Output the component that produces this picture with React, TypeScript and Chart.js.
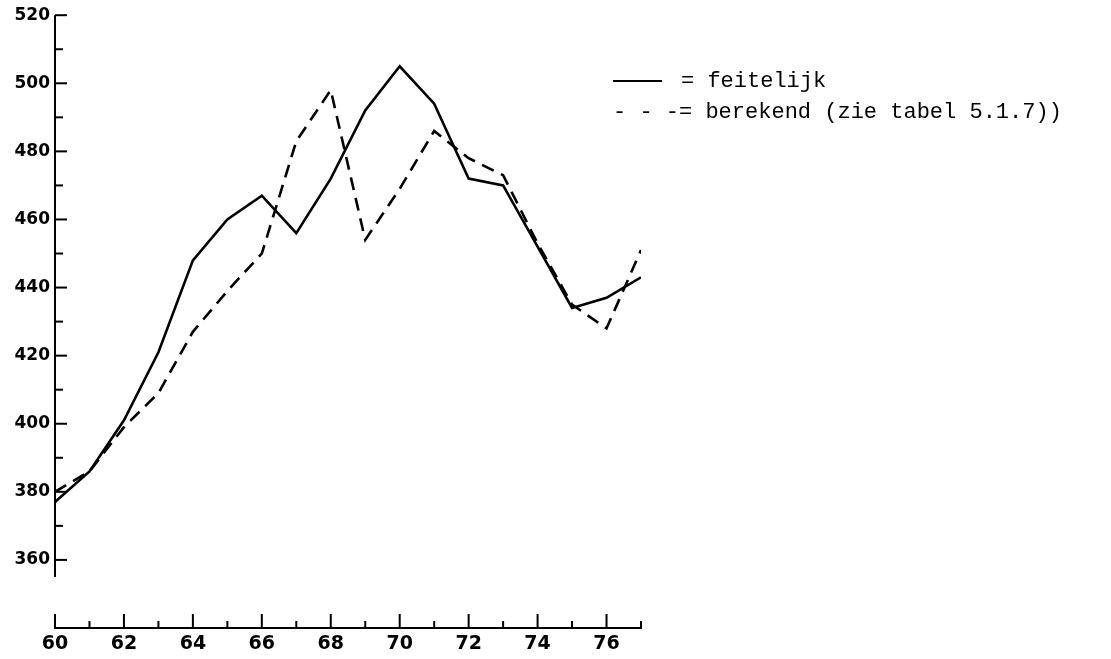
import React, { useEffect, useRef } from "react";
import { Chart, registerables } from "chart.js";

Chart.register(...registerables);

// ---- data ----
const years: number[] = [60, 61, 62, 63, 64, 65, 66, 67, 68, 69, 70, 71, 72, 73, 74, 75, 76, 77];
const feitelijk: number[] = [377, 386, 401, 421, 448, 460, 467, 456, 472, 492, 505, 494, 472, 470, 452, 434, 437, 443];
const berekend: number[] = [380, 386, 399, 409, 427, 439, 450, 483, 498, 454, 469, 486, 478, 473, 453, 435, 428, 451];
const xTickLabels: number[] = [60, 62, 64, 66, 68, 70, 72, 74, 76];
const yTickLabels: number[] = [360, 380, 400, 420, 440, 460, 480, 500, 520];
const legendLabels: string[] = ["= feitelijk", "- - -= berekend (zie tabel 5.1.7))"];

const X_MIN = 60;
const X_MAX = 77;
const Y_MIN = 340;
const Y_MAX = 520;
const Y_AXIS_START = 355;

const handAxes = {
  id: "handAxes",
  afterDraw(chart: any) {
    const { ctx } = chart;
    const x = chart.scales.x;
    const y = chart.scales.y;
    ctx.save();
    ctx.strokeStyle = "#000";
    ctx.lineWidth = 2;
    ctx.lineCap = "butt";
    // y axis line
    const x0 = x.getPixelForValue(X_MIN);
    ctx.beginPath();
    ctx.moveTo(x0, y.getPixelForValue(Y_AXIS_START));
    ctx.lineTo(x0, y.getPixelForValue(Y_MAX));
    ctx.stroke();
    for (let v = 360; v <= Y_MAX; v += 10) {
      const py = y.getPixelForValue(v);
      const len = v % 20 === 0 ? 12 : 8;
      ctx.beginPath();
      ctx.moveTo(x0, py);
      ctx.lineTo(x0 + len, py);
      ctx.stroke();
    }
    // x axis line
    const yb = y.getPixelForValue(Y_MIN);
    ctx.beginPath();
    ctx.moveTo(x.getPixelForValue(X_MIN) - 1, yb);
    ctx.lineTo(x.getPixelForValue(X_MAX) + 1, yb);
    ctx.stroke();
    for (let v = X_MIN; v <= X_MAX; v += 1) {
      const px = x.getPixelForValue(v);
      const len = v % 2 === 0 ? 14 : 7;
      ctx.beginPath();
      ctx.moveTo(px, yb);
      ctx.lineTo(px, yb - len);
      ctx.stroke();
    }
    ctx.restore();
  },
};

const handLegend = {
  id: "handLegend",
  afterDraw(chart: any) {
    const { ctx } = chart;
    ctx.save();
    ctx.fillStyle = "#000";
    ctx.strokeStyle = "#000";
    ctx.font = '22px "Liberation Mono", "DejaVu Sans Mono", monospace';
    ctx.textBaseline = "middle";
    ctx.textAlign = "left";
    // row 1: solid sample + label
    ctx.lineWidth = 1.8;
    ctx.beginPath();
    ctx.moveTo(613, 81);
    ctx.lineTo(662, 81);
    ctx.stroke();
    ctx.fillText(legendLabels[0], 681, 81);
    // row 2: text only (dashes are typed characters)
    ctx.fillText(legendLabels[1], 613, 112);
    ctx.restore();
  },
};

export default function App() {
  const ref = useRef<HTMLCanvasElement | null>(null);

  useEffect(() => {
    if (!ref.current) return;
    const chart = new Chart(ref.current, {
      type: "line",
      data: {
        datasets: [
          {
            label: "feitelijk",
            data: years.map((yr, i) => ({ x: yr, y: feitelijk[i] })),
            borderColor: "#000",
            borderWidth: 2.6,
            pointRadius: 0,
            tension: 0,
            fill: false,
            order: 0,
          },
          {
            label: "berekend",
            data: years.map((yr, i) => ({ x: yr, y: berekend[i] })),
            borderColor: "#000",
            borderWidth: 2.6,
            borderDash: [13, 8],
            pointRadius: 0,
            tension: 0,
            fill: false,
            order: 1,
          },
        ],
      },
      options: {
        responsive: false,
        animation: false,
        layout: { padding: { top: 13, right: 470, left: 0, bottom: 0 } },
        plugins: {
          legend: { display: false },
          tooltip: { enabled: false },
        },
        scales: {
          x: {
            type: "linear",
            min: X_MIN,
            max: X_MAX,
            grid: { display: false, drawTicks: false },
            border: { display: false },
            ticks: {
              stepSize: 1,
              autoSkip: false,
              maxRotation: 0,
              padding: 5,
              color: "#000",
              font: { family: '"DejaVu Sans", sans-serif', size: 19, weight: "bold" },
              callback: (v: any) => (xTickLabels.includes(Number(v)) ? String(v) : ""),
            },
            afterFit: (s: any) => {
              s.height = 31;
            },
          },
          y: {
            type: "linear",
            min: Y_MIN,
            max: Y_MAX,
            grid: { display: false, drawTicks: false },
            border: { display: false },
            ticks: {
              stepSize: 10,
              autoSkip: false,
              padding: 5,
              color: "#000",
              font: { family: '"DejaVu Sans", sans-serif', size: 17, weight: "bold" },
              callback: (v: any) => (yTickLabels.includes(Number(v)) ? String(v) : ""),
            },
            afterFit: (s: any) => {
              s.width = 55;
            },
          },
        },
      },
      plugins: [handAxes, handLegend],
    });
    return () => chart.destroy();
  }, []);

  return (
    <div style={{ position: "fixed", left: 0, top: 0, width: 1111, height: 659, background: "#fff" }}>
      <canvas ref={ref} width={1111} height={659} style={{ display: "block" }} />
    </div>
  );
}
